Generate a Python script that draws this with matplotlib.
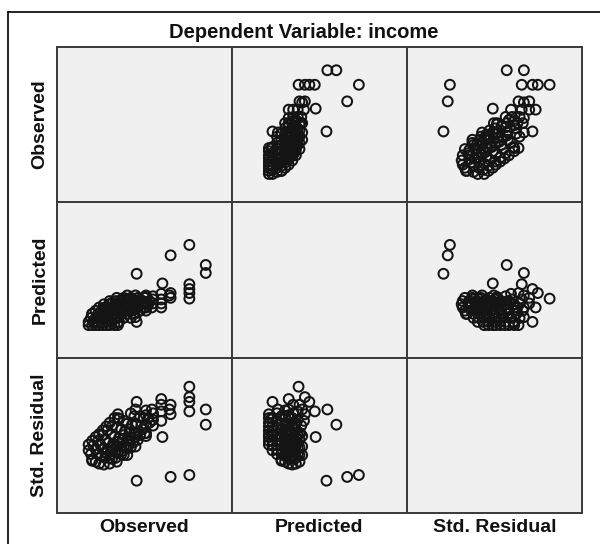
import matplotlib
matplotlib.use("Agg")
from matplotlib import pyplot as plt
from matplotlib.lines import Line2D

plt.rcParams['font.family'] = ['Liberation Sans', 'DejaVu Sans']

# values (arbitrary units, no tick labels in the original)
observed = [100, 100, 86, 86, 86, 86, 86, 70, 41, 41, 63, 70, 70, 69,
            62, 62, 62, 62, 55, 55, 55, 49, 49, 49, 3, 40, 25,
            0, 3, 6, 9, 12, 15, 18, 22, 25,
            0, 4, 8, 12, 16, 20, 26,
            2, 6, 10, 14, 19, 24, 30, 36,
            3, 8, 12, 17, 22, 28, 33, 39,
            6, 11, 16, 21, 26, 31, 37, 44, 49,
            9, 14, 19, 24, 29, 35, 41, 47, 54,
            13, 18, 23, 28, 33, 39, 45, 51,
            18, 23, 28, 34, 40, 46, 52,
            24, 30, 36, 42, 48,
            33, 40, 49,
            15, 20, 25, 30, 35, 40,
            20, 25, 30, 35, 40,
            28, 33, 38, 44]
predicted = [65, 75, 100, 33, 40, 45, 51, 87, 64, 4, 52, 34, 40, 37,
             22, 27, 32, 39, 27, 32, 36, 22, 29, 35, 14, 10, 3,
             0, 0, 0, 0, 0, 0, 0, 0, 0,
             4, 4, 4, 4, 4, 4, 4,
             9, 9, 9, 9, 9, 9, 9, 9,
             14, 14, 14, 14, 14, 14, 14, 14,
             18, 18, 18, 18, 18, 18, 18, 18, 18,
             22, 22, 22, 22, 22, 22, 22, 22, 22,
             26, 26, 26, 26, 26, 26, 26, 26,
             30, 30, 30, 30, 30, 30, 30,
             34, 34, 34, 34, 34,
             37, 37, 37,
             20, 20, 20, 20, 20, 20,
             28, 28, 28, 28, 28,
             32, 32, 32, 32]
std_residual = [75, 59, 6, 99, 88, 83, 73, 4, 0, 83, 46, 80, 70, 75,
                86, 80, 73, 63, 71, 64, 58, 69, 59, 50, 21, 75, 66,
                38, 42, 46, 49, 53, 57, 61, 66, 70,
                32, 37, 42, 48, 53, 58, 65,
                28, 33, 38, 43, 49, 56, 63, 71,
                22, 28, 33, 40, 46, 54, 60, 68,
                20, 26, 33, 39, 45, 52, 59, 68, 74,
                18, 24, 31, 37, 43, 51, 59, 66, 75,
                17, 24, 30, 36, 43, 50, 58, 66,
                18, 24, 31, 38, 46, 54, 61,
                20, 27, 35, 43, 50,
                27, 36, 47,
                29, 35, 41, 48, 54, 60,
                23, 30, 36, 42, 49,
                28, 34, 40, 48]

var_names = ['Observed', 'Predicted', 'Std. Residual']
title = 'Dependent Variable: income'

series = [observed, predicted, std_residual]
limits = [(-27, 122.4), (-41, 153.5), (-34, 129.2)]

W, H = 600, 544
fig = plt.figure(figsize=(W / 100, H / 100), dpi=100)

col_edges = [57, 232, 407, 582]
row_edges = [47, 202, 358, 513]

for r in range(3):
    for c in range(3):
        x0, x1 = col_edges[c], col_edges[c + 1]
        y0, y1 = row_edges[r], row_edges[r + 1]
        ax = fig.add_axes([x0 / W, 1 - y1 / H, (x1 - x0) / W, (y1 - y0) / H])
        ax.set_facecolor('#f0f0f0')
        ax.set_xticks([])
        ax.set_yticks([])
        for sp in ax.spines.values():
            sp.set_color('#3a3a3a')
            sp.set_linewidth(1.4)
        ax.set_xlim(limits[c])
        ax.set_ylim(limits[r])
        if r != c:
            ax.scatter(series[c], series[r], s=50, facecolors='none',
                       edgecolors='#141414', linewidths=1.45)

# row labels and column labels
for i, name in enumerate(var_names):
    yc = (row_edges[i] + row_edges[i + 1]) / 2
    fig.text(40 / W, 1 - yc / H, name, rotation=90, ha='center', va='center',
             fontsize=14, fontweight='bold', color='#111111')
    xc = (col_edges[i] + col_edges[i + 1]) / 2
    fig.text(xc / W, 1 - 527 / H, name, ha='center', va='center',
             fontsize=14, fontweight='bold', color='#111111')

fig.text(304 / W, 1 - 32 / H, title, ha='center', va='center', fontsize=14.5,
         fontweight='bold', color='#111111')

# outer frame (left and top edges only are visible)
fig.add_artist(Line2D([8 / W, 8 / W], [0, 1 - 12 / H], transform=fig.transFigure,
                      color='black', linewidth=1.2))
fig.add_artist(Line2D([8 / W, 1], [1 - 12 / H, 1 - 12 / H], transform=fig.transFigure,
                      color='black', linewidth=1.2))

fig.savefig('out.png', dpi=100)
